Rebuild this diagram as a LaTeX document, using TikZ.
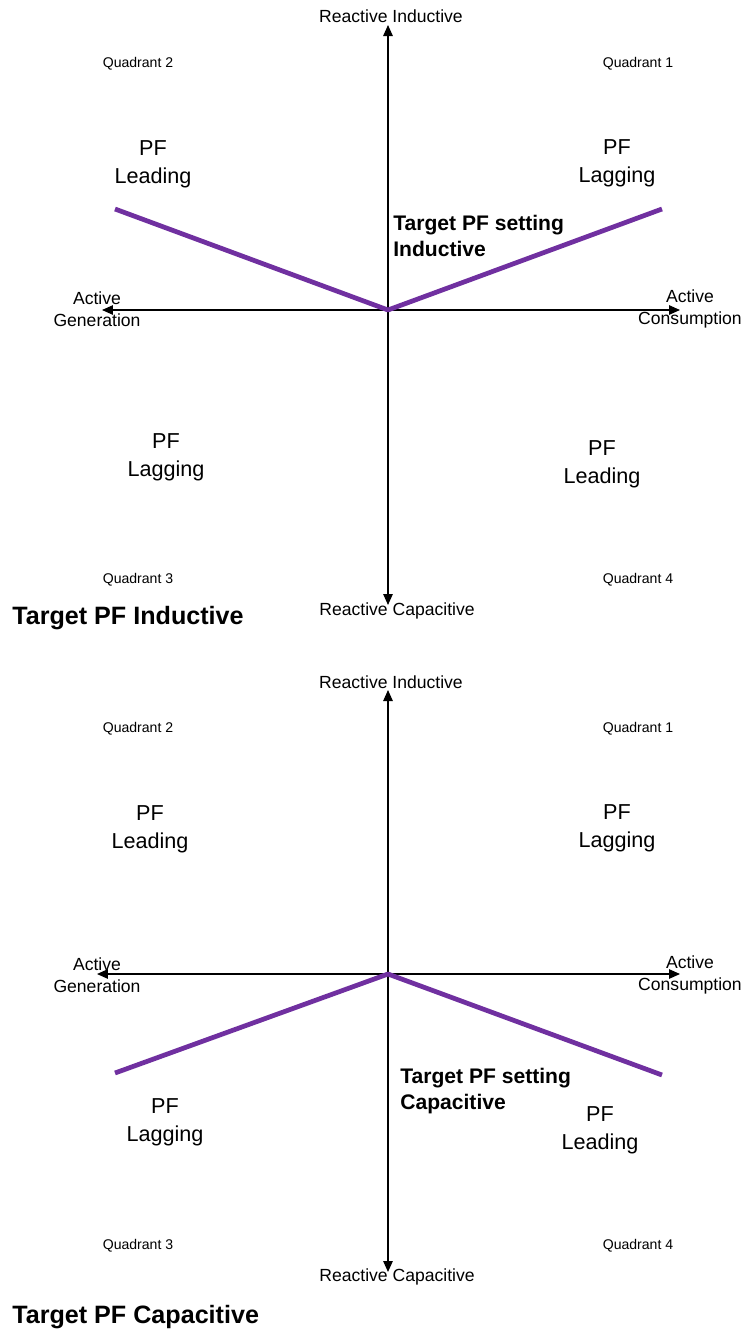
\documentclass[tikz,border=0pt]{standalone}
\usepackage{fontspec}
\setmainfont{Liberation Sans}
\usetikzlibrary{arrows.meta}
\definecolor{pfpurple}{RGB}{112,48,160}

\begin{document}
\begin{tikzpicture}[x=0.02cm,y=-0.02cm,
 axis/.style={{Triangle[length=2.2mm,width=1.9mm]}-{Triangle[length=2.2mm,width=1.9mm]},line width=0.75pt},
 setline/.style={draw=pfpurple,line width=2.7pt,line join=round},
 axlabel/.style={inner sep=0pt,align=center,font=\fontsize{10}{12.5}\selectfont},
 quad/.style={inner sep=0pt,font=\fontsize{8}{10}\selectfont},
 pf/.style={inner sep=0pt,align=center,font=\fontsize{12.3}{16}\selectfont},
 setting/.style={inner sep=0pt,align=left,anchor=west,font=\bfseries\fontsize{12}{14.7}\selectfont},
 heading/.style={inner sep=0pt,anchor=west,font=\bfseries\fontsize{14.3}{17}\selectfont}]
\useasboundingbox (0,0) rectangle (746,1329);

% upper chart: inductive setting
\coordinate (iorigin) at (388,310);
\coordinate (itop) at (388,25);
\coordinate (ibottom) at (388,605);
\coordinate (ileft) at (102,310);
\coordinate (iright) at (680,310);
\coordinate (isetl) at (115,209);
\coordinate (isetr) at (662,209);
\node[axlabel] (ireacind) at (391,16) {Reactive Inductive};
\node[axlabel] (ireaccap) at (397,611) {Reactive Capacitive};
\node[axlabel] (igen) at (97,309) {Active\\Generation};
\node[axlabel] (icons) at (690,309) {Active\\Consumption};
\node[quad] (iq2) at (138,64) {Quadrant 2};
\node[quad] (iq1) at (638,64) {Quadrant 1};
\node[quad] (iq3) at (138,580) {Quadrant 3};
\node[quad] (iq4) at (638,580) {Quadrant 4};
\node[pf] (ipf2) at (153,164) {PF\\Leading};
\node[pf] (ipf1) at (617,163) {PF\\Lagging};
\node[pf] (ipf3) at (166,457) {PF\\Lagging};
\node[pf] (ipf4) at (602,464) {PF\\Leading};
\node[setting] (iset) at (393,236) {Target PF setting\\Inductive};
\node[heading] (ititle) at (12,618) {Target PF Inductive};
\draw[axis] (itop)--(ibottom);
\draw[axis] (ileft)--(iright);
\draw[setline] (isetl)--(iorigin)--(isetr);

% lower chart: capacitive setting
\coordinate (corigin) at (388,974);
\coordinate (ctop) at (388,690);
\coordinate (cbottom) at (388,1272);
\coordinate (cleft) at (97,974);
\coordinate (cright) at (680,974);
\coordinate (csetl) at (115,1073);
\coordinate (csetr) at (662,1075);
\node[axlabel] (creacind) at (391,682) {Reactive Inductive};
\node[axlabel] (creaccap) at (397,1277) {Reactive Capacitive};
\node[axlabel] (cgen) at (97,975) {Active\\Generation};
\node[axlabel] (ccons) at (690,975) {Active\\Consumption};
\node[quad] (cq2) at (138,729) {Quadrant 2};
\node[quad] (cq1) at (638,729) {Quadrant 1};
\node[quad] (cq3) at (138,1246) {Quadrant 3};
\node[quad] (cq4) at (638,1246) {Quadrant 4};
\node[pf] (cpf2) at (150,829) {PF\\Leading};
\node[pf] (cpf1) at (617,828) {PF\\Lagging};
\node[pf] (cpf3) at (165,1122) {PF\\Lagging};
\node[pf] (cpf4) at (600,1130) {PF\\Leading};
\node[setting] (cset) at (400,1091) {Target PF setting\\Capacitive};
\node[heading] (ctitle) at (12,1317) {Target PF Capacitive};
\draw[axis] (ctop)--(cbottom);
\draw[axis] (cleft)--(cright);
\draw[setline] (csetl)--(corigin)--(csetr);
\end{tikzpicture}
\end{document}
